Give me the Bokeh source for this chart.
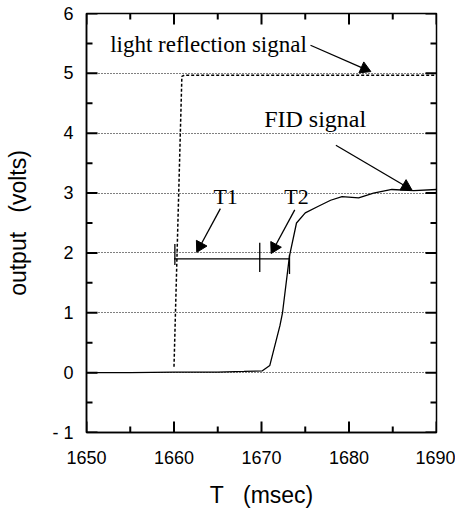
import math
from bokeh.plotting import figure
from bokeh.models import FixedTicker, Range1d
from bokeh.core.properties import value
from bokeh.embed import file_html
from bokeh.resources import INLINE

# ---- data ----
fid_t = [1650, 1655, 1660, 1665, 1668, 1670.1, 1670.95, 1672.1, 1672.4, 1673.2,
         1674.0, 1675.0, 1676.5, 1677.9, 1679.2, 1681.1, 1682.8, 1684.9, 1687.4, 1690]
fid_v = [0.0, 0.0, 0.01, 0.01, 0.02, 0.03, 0.12, 0.78, 1.0, 1.95,
         2.5, 2.67, 2.78, 2.88, 2.94, 2.92, 3.0, 3.06, 3.04, 3.06]

light_t = [1660.0, 1660.9, 1661.2, 1690]
light_v = [0.1, 4.95, 4.97, 4.97]

bar_t = [1660.0, 1673.2]
bar_v = [1.9, 1.9]
marks_t = [1660.1, 1669.8, 1673.2]
marks_lo = [1.8, 1.68, 1.65]
marks_hi = [2.15, 2.17, 1.97]

labels = ["T1", "T2", "light reflection signal", "FID signal"]
label_x = [1664.5, 1672.6, 1652.7, 1670.3]
label_y = [2.94, 2.94, 5.49, 4.24]
label_size = ["22px", "22px", "23px", "24px"]
arrow_x0 = [1665.3, 1673.8, 1675.6, 1678.5]
arrow_y0 = [2.74, 2.72, 5.47, 3.80]
arrow_x1 = [1662.6, 1671.1, 1682.5, 1687.2]
arrow_y1 = [2.01, 1.99, 5.03, 3.05]

x_ticks = [1650, 1660, 1670, 1680, 1690]
x_minor = [1655, 1665, 1675, 1685]
y_ticks = [-1, 0, 1, 2, 3, 4, 5, 6]
y_minor = [-0.5, 0.5, 1.5, 2.5, 3.5, 4.5, 5.5]

X0, X1, Y0, Y1 = 1650, 1690, -1, 6
W, H = 455, 510
BL, BT, BR, BB = 86, 13, 19, 77
FW, FH = W - BL - BR, H - BT - BB
PXX, PXY = FW / (X1 - X0), FH / (Y1 - Y0)
MAJ, MIN = 11, 6

p = figure(width=W, height=H, output_backend="svg", toolbar_location=None,
           x_range=Range1d(X0, X1), y_range=Range1d(Y0, Y1),
           min_border_left=BL, min_border_top=BT, min_border_right=BR,
           min_border_bottom=BB, x_axis_label="T\u00a0\u00a0\u00a0(msec)",
           y_axis_label="output\u00a0\u00a0\u00a0(volts)")
p.outline_line_color = "black"
p.outline_line_width = 1.5

p.xgrid.visible = False
p.ygrid.ticker = FixedTicker(ticks=[0, 1, 2, 3, 4, 5])
p.ygrid.grid_line_color = "black"
p.ygrid.grid_line_dash = "1 2"
p.ygrid.grid_line_width = 1

for ax, ticks, minor in ((p.xaxis[0], x_ticks, x_minor), (p.yaxis[0], y_ticks, y_minor)):
    ax.ticker = FixedTicker(ticks=ticks, minor_ticks=minor)
    ax.axis_line_color = "black"
    ax.axis_line_width = 1.5
    ax.major_tick_out = 0
    ax.major_tick_in = 0
    ax.minor_tick_out = 0
    ax.minor_tick_in = 0
    ax.major_label_text_font = "Liberation Sans"
    ax.major_label_text_font_size = "18px"
    ax.major_label_text_color = "black"
    ax.axis_label_text_font = "Liberation Sans"
    ax.axis_label_text_font_size = "23px"
    ax.axis_label_text_font_style = "normal"
    ax.axis_label_text_color = "black"

p.xaxis[0].major_label_standoff = 18
p.xaxis[0].axis_label_standoff = 15
p.yaxis[0].major_label_standoff = 13
p.yaxis[0].axis_label_standoff = 18
p.yaxis[0].major_label_overrides = {-1: "- 1"}

# inward ticks on all four sides, built from the tick lists
tick_x0, tick_y0, tick_x1, tick_y1 = [], [], [], []
for ticks, ln in ((x_ticks, MAJ), (x_minor, MIN)):
    for t in ticks:
        tick_x0 += [t, t]
        tick_x1 += [t, t]
        tick_y0 += [Y0, Y1]
        tick_y1 += [Y0 + ln / PXY, Y1 - ln / PXY]
for ticks, ln in ((y_ticks, MAJ), (y_minor, MIN)):
    for t in ticks:
        tick_y0 += [t, t]
        tick_y1 += [t, t]
        tick_x0 += [X0, X1]
        tick_x1 += [X0 + ln / PXX, X1 - ln / PXX]
p.segment(x0=tick_x0, y0=tick_y0, x1=tick_x1, y1=tick_y1,
          line_color="#000000", line_width=2)

# signals
p.line(light_t, light_v, line_color="black", line_width=1.5, line_dash="3 2")
p.line(fid_t, fid_v, line_color="black", line_width=1.3)
p.line(bar_t, bar_v, line_color="black", line_width=1.3)
p.segment(x0=marks_t, y0=marks_lo, x1=marks_t, y1=marks_hi,
          line_color="black", line_width=1.3)

# annotation texts
p.text(x=label_x, y=label_y, text=labels, text_font=value("Liberation Serif"),
       text_font_size=label_size, text_color="black",
       text_baseline="middle", text_align="left")

# arrows: shaft + filled triangular head (tip on the end point)
HEAD = 12
tip_off = HEAD / 2 * math.sqrt(3) * 2 / 3
hx, hy, ang = [], [], []
for x0, y0, x1, y1 in zip(arrow_x0, arrow_y0, arrow_x1, arrow_y1):
    dxp, dyp = (x1 - x0) * PXX, (y1 - y0) * PXY
    L = math.hypot(dxp, dyp)
    ux, uy = dxp / L, dyp / L
    hx.append(x1 - ux * tip_off / PXX)
    hy.append(y1 - uy * tip_off / PXY)
    ang.append(math.atan2(uy, ux) - math.pi / 2)
p.segment(x0=arrow_x0, y0=arrow_y0, x1=hx, y1=hy, line_color="black", line_width=1.3)
p.scatter(x=hx, y=hy, marker="triangle", size=HEAD, angle=ang, angle_units="rad",
          fill_color="black", line_color="black", line_width=1)

open("out.html", "w").write(file_html(p, INLINE))
